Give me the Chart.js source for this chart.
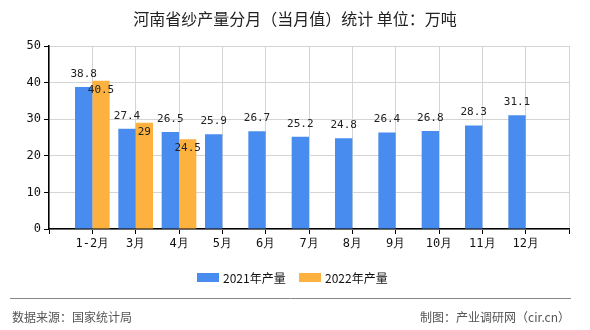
<!DOCTYPE html>
<html>
<head>
<meta charset="utf-8">
<script src="https://cdn.jsdelivr.net/npm/chart.js@4/dist/chart.umd.min.js"></script>
<style>
  html, body { margin: 0; padding: 0; background: #fff; }
  #wrap { width: 590px; height: 330px; position: relative; }
</style>
</head>
<body>
<div id="wrap"><canvas id="graph" width="590" height="330"></canvas></div>
<script>
// months on the axis; empty slots at both ends keep the ticks under the bars
const months = ['', '1-2月', '3月', '4月', '5月', '6月', '7月', '8月', '9月', '10月', '11月', '12月', ''];
const prod2021 = [null, 38.8, 27.4, 26.5, 25.9, 26.7, 25.2, 24.8, 26.4, 26.8, 28.3, 31.1, null];
const prod2022 = [null, 40.5, 29, 24.5, null, null, null, null, null, null, null, null, null];
const yTicks = [0, 10, 20, 30, 40, 50];

const title = '河南省纱产量分月（当月值）统计 单位：万吨';
const source = '数据来源：国家统计局';
const credit = '制图：产业调研网（cir.cn）';

const cjk = '"Noto Sans CJK SC", "Noto Sans", sans-serif';
const mono = '"DejaVu Sans Mono", monospace';

// title, value labels, legend and footer
const decor = {
  id: 'decor',
  afterDatasetsDraw(chart) {
    const c = chart.ctx;
    c.save();
    c.fillStyle = '#222';
    c.font = '11px ' + mono;
    c.textAlign = 'center';
    chart.data.datasets.forEach((ds, i) => {
      chart.getDatasetMeta(i).data.forEach((bar, j) => {
        const v = ds.data[j];
        if (v == null) return;
        if (i === 0) c.fillText(String(v), bar.x, bar.y - 10);
        else c.fillText(String(v), bar.x, bar.y + 12);
      });
    });
    c.restore();
  },
  afterDraw(chart) {
    const c = chart.ctx;
    c.save();
    c.fillStyle = '#222';
    c.font = '16px ' + cjk;
    c.textAlign = 'center';
    c.textBaseline = 'middle';
    c.fillText(title, 295, 19);

    // legend
    c.font = '12px ' + cjk;
    c.textAlign = 'left';
    const items = [[197, 0], [299, 1]];
    items.forEach(([x, i]) => {
      const ds = chart.data.datasets[i];
      c.fillStyle = ds.backgroundColor;
      c.fillRect(x, 273, 22, 9);
      c.fillStyle = '#111';
      c.fillText(ds.label, x + 26, 278);
    });

    // footer
    c.strokeStyle = '#888';
    c.lineWidth = 1;
    c.beginPath();
    c.moveTo(10, 298.5);
    c.lineTo(571, 298.5);
    c.stroke();
    c.fillStyle = '#555';
    c.fillText(source, 12, 317);
    c.textAlign = 'right';
    c.fillText(credit, 570, 317);
    c.restore();
  }
};

new Chart(document.getElementById('graph').getContext('2d'), {
  type: 'bar',
  data: {
    labels: months,
    datasets: [
      { label: '2021年产量', data: prod2021, backgroundColor: '#478cee' },
      { label: '2022年产量', data: prod2022, backgroundColor: '#fdb13f' }
    ]
  },
  options: {
    responsive: false,
    animation: false,
    layout: { padding: { left: 0, right: 21, top: 46, bottom: 81 } },
    plugins: { legend: { display: false }, title: { display: false }, tooltip: { enabled: false } },
    datasets: { bar: { barPercentage: 1, categoryPercentage: 0.8 } },
    scales: {
      x: {
        offset: false,
        grid: { offset: false, color: '#d4d4d4', tickColor: '#000', tickLength: 5 },
        border: { color: '#000', width: 1.5 },
        ticks: { color: '#111', font: { size: 12, family: mono }, padding: 3, maxRotation: 0, autoSkip: false },
        afterFit: s => { s.height = 20; }
      },
      y: {
        min: 0, max: 50,
        afterBuildTicks: s => { s.ticks = yTicks.map(v => ({ value: v })); },
        grid: { color: '#d4d4d4', tickColor: '#000', tickLength: 5 },
        border: { color: '#000', width: 1.5 },
        ticks: { color: '#111', font: { size: 12, family: mono }, padding: 3 },
        afterFit: s => { s.width = 49; }
      }
    }
  },
  plugins: [decor]
});
</script>
</body>
</html>
